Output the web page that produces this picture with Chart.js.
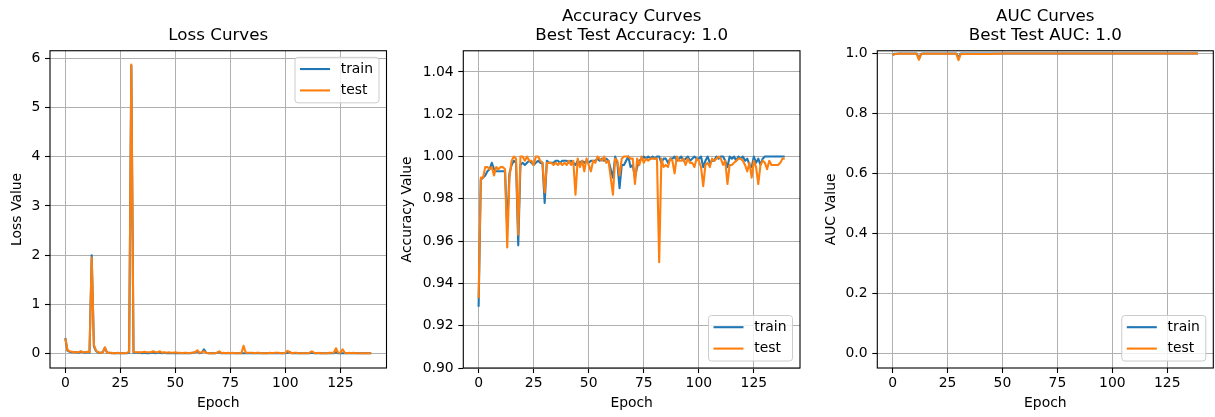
<!DOCTYPE html>
<html>
<head>
<meta charset="utf-8">
<script src="https://cdn.jsdelivr.net/npm/chart.js@4"></script>
<style>
  body { margin: 0; background: #fff; }
  #wrap { position: relative; width: 1215px; height: 417px; overflow: hidden; }
  canvas { position: absolute; top: 0; }
</style>
</head>
<body>
<div id="wrap">
  <canvas id="lossChart" width="392" height="417" style="left:0px"></canvas>
  <canvas id="accChart" width="423" height="417" style="left:392px"></canvas>
  <canvas id="aucChart" width="400" height="417" style="left:815px"></canvas>
</div>
<script>
// values, one per epoch (0..139)
const lossTrain = [
  0.32,0.06,0.04,0.03,0.03,0.03,0.02,0.04,0.03,0.02,
  0.03,0.02,2.00,0.15,0.05,0.02,0.02,0.03,0.12,0.02,
  0.02,0.01,0.01,0.01,0.01,0.01,0.01,0.01,0.01,0.02,
  5.85,0.02,0.02,0.02,0.02,0.01,0.02,0.01,0.01,0.02,
  0.02,0.01,0.02,0.02,0.01,0.02,0.01,0.01,0.01,0.01,
  0.01,0.01,0.01,0.01,0.01,0.01,0.01,0.01,0.02,0.03,
  0.05,0.01,0.02,0.09,0.02,0.01,0.01,0.01,0.01,0.02,
  0.03,0.01,0.01,0.01,0.01,0.01,0.01,0.01,0.01,0.01,
  0.01,0.01,0.01,0.01,0.01,0.01,0.01,0.01,0.01,0.01,
  0.01,0.01,0.01,0.01,0.01,0.01,0.01,0.01,0.01,0.01,
  0.01,0.02,0.03,0.01,0.01,0.01,0.01,0.01,0.01,0.01,
  0.01,0.01,0.02,0.01,0.01,0.01,0.01,0.01,0.01,0.01,
  0.01,0.01,0.01,0.03,0.01,0.01,0.01,0.01,0.01,0.01,
  0.01,0.01,0.01,0.01,0.01,0.01,0.01,0.01,0.01,0.01
];
const lossTest = [
  0.31,0.07,0.05,0.04,0.03,0.03,0.03,0.05,0.03,0.03,
  0.04,0.03,1.95,0.18,0.06,0.03,0.02,0.02,0.13,0.02,
  0.02,0.02,0.01,0.01,0.02,0.01,0.01,0.01,0.02,0.04,
  5.87,0.04,0.03,0.03,0.03,0.03,0.04,0.03,0.03,0.03,
  0.05,0.03,0.03,0.05,0.02,0.03,0.02,0.03,0.02,0.02,
  0.03,0.02,0.02,0.01,0.02,0.02,0.01,0.02,0.02,0.03,
  0.07,0.02,0.03,0.05,0.02,0.01,0.01,0.01,0.01,0.02,
  0.05,0.01,0.02,0.01,0.02,0.01,0.02,0.01,0.01,0.01,
  0.01,0.16,0.02,0.02,0.02,0.02,0.01,0.02,0.02,0.01,
  0.01,0.01,0.01,0.02,0.01,0.02,0.02,0.02,0.01,0.01,
  0.02,0.06,0.03,0.01,0.02,0.02,0.01,0.01,0.01,0.01,
  0.01,0.02,0.05,0.02,0.01,0.02,0.01,0.01,0.01,0.01,
  0.02,0.02,0.02,0.11,0.02,0.02,0.09,0.02,0.01,0.02,
  0.01,0.02,0.01,0.01,0.01,0.01,0.01,0.01,0.01,0.01
];
const accTrain = [
  0.929,0.989,0.990,0.991,0.993,0.994,0.997,0.994,0.993,0.993,
  0.993,0.993,0.993,0.966,0.992,0.996,0.998,0.997,0.958,0.996,
  0.997,0.996,0.997,0.998,0.997,0.996,0.997,0.998,0.997,0.997,
  0.978,0.998,0.997,0.997,0.997,0.998,0.998,0.997,0.998,0.998,
  0.998,0.997,0.998,0.997,0.996,0.998,0.997,0.998,0.997,0.998,
  0.997,0.998,0.998,0.998,0.999,0.998,0.999,0.998,0.999,0.998,
  0.994,0.990,1.000,0.997,0.985,0.996,0.996,0.998,1.000,0.995,
  0.996,0.990,0.995,0.998,0.999,1.000,0.999,1.000,0.999,1.000,
  0.999,1.000,1.000,0.997,0.999,0.999,0.997,0.999,0.999,1.000,
  0.998,0.999,1.000,0.998,0.999,1.000,0.998,0.999,1.000,0.999,
  0.999,1.000,0.995,0.998,1.000,0.997,0.998,0.998,1.000,0.999,
  1.000,1.000,0.998,0.995,1.000,0.999,1.000,0.998,1.000,0.999,
  1.000,0.998,0.999,0.996,0.995,1.000,0.997,0.999,0.996,0.999,
  1.000,1.000,1.000,1.000,1.000,1.000,1.000,1.000,1.000,1.000
];
const accTest = [
  0.933,0.990,0.990,0.995,0.995,0.994,0.995,0.991,0.995,0.994,
  0.995,0.995,0.994,0.957,0.990,0.998,1.000,0.999,0.963,1.000,
  1.000,0.998,1.000,0.998,0.998,0.996,1.000,1.000,0.998,0.997,
  0.983,0.997,0.997,0.997,0.996,0.997,0.996,0.997,0.996,0.997,
  0.996,0.998,0.996,0.998,0.982,0.999,0.995,0.998,0.993,0.999,
  0.996,0.993,0.998,0.997,1.000,0.999,0.998,1.000,0.997,0.998,
  0.990,0.982,0.999,0.998,0.991,0.999,1.000,1.000,1.000,0.999,
  0.999,0.987,0.999,0.996,1.000,0.997,0.999,0.998,0.999,0.999,
  0.999,0.999,0.950,0.999,0.995,0.996,0.995,0.999,0.998,0.992,
  1.000,0.998,0.998,0.999,0.996,0.999,0.997,0.997,0.995,0.999,
  0.998,0.995,0.986,0.996,0.997,0.995,0.999,0.998,0.999,1.000,
  0.999,0.996,0.998,0.987,0.996,0.996,0.997,0.998,0.999,0.999,
  0.998,0.996,0.993,0.997,0.990,0.998,0.995,0.987,0.996,0.998,
  0.997,0.994,0.998,0.996,0.996,0.996,0.996,0.997,0.999,0.999
];
const aucTrain = [
  0.995,0.999,0.999,1.000,1.000,1.000,1.000,1.000,1.000,1.000,
  1.000,1.000,0.982,0.999,1.000,1.000,1.000,1.000,1.000,1.000,
  1.000,1.000,1.000,1.000,1.000,1.000,1.000,1.000,1.000,1.000,
  0.985,1.000,1.000,1.000,1.000,1.000,1.000,1.000,1.000,1.000,
  1.000,1.000,1.000,1.000,1.000,1.000,1.000,1.000,1.000,1.000,
  1.000,1.000,1.000,1.000,1.000,1.000,1.000,1.000,1.000,1.000,
  1.000,1.000,1.000,1.000,1.000,1.000,1.000,1.000,1.000,1.000,
  1.000,1.000,1.000,1.000,1.000,1.000,1.000,1.000,1.000,1.000,
  1.000,1.000,1.000,1.000,1.000,1.000,1.000,1.000,1.000,1.000,
  1.000,1.000,1.000,1.000,1.000,1.000,1.000,1.000,1.000,1.000,
  1.000,1.000,1.000,1.000,1.000,1.000,1.000,1.000,1.000,1.000,
  1.000,1.000,1.000,1.000,1.000,1.000,1.000,1.000,1.000,1.000,
  1.000,1.000,1.000,1.000,1.000,1.000,1.000,1.000,1.000,1.000,
  1.000,1.000,1.000,1.000,1.000,1.000,1.000,1.000,1.000,1.000
];
const aucTest = [
  0.994,0.998,0.999,0.999,0.999,0.999,0.999,0.999,0.999,0.999,
  0.999,0.999,0.979,0.998,0.999,0.999,0.999,0.999,0.999,0.999,
  0.999,0.999,0.999,0.999,0.999,0.999,0.999,0.999,0.999,0.999,
  0.978,0.998,0.998,0.998,0.998,0.998,0.998,0.998,0.998,0.998,
  0.998,0.998,0.998,0.998,0.998,0.998,0.999,0.999,0.999,0.999,
  1.000,1.000,1.000,1.000,1.000,1.000,1.000,1.000,1.000,1.000,
  1.000,1.000,1.000,1.000,1.000,1.000,1.000,1.000,1.000,1.000,
  1.000,1.000,1.000,1.000,1.000,1.000,1.000,1.000,1.000,1.000,
  1.000,1.000,1.000,1.000,1.000,1.000,1.000,1.000,1.000,1.000,
  1.000,1.000,1.000,1.000,1.000,1.000,1.000,1.000,1.000,1.000,
  1.000,1.000,1.000,1.000,1.000,1.000,1.000,1.000,1.000,1.000,
  1.000,1.000,1.000,1.000,1.000,1.000,1.000,1.000,1.000,1.000,
  1.000,1.000,1.000,1.000,1.000,1.000,1.000,1.000,1.000,1.000,
  1.000,1.000,1.000,1.000,1.000,1.000,1.000,1.000,1.000,1.000
];
const epochs = lossTrain.map((v, i) => i);

const BLUE = '#1f77b4';
const ORANGE = '#ff7f0e';
const FAMILY = '"DejaVu Sans", sans-serif';
const small = { family: FAMILY, size: 13.9 };

// black box around the plot area, like matplotlib spines
const frame = {
  id: 'frame',
  afterDatasetsDraw(chart) {
    const a = chart.chartArea;
    const ctx = chart.ctx;
    ctx.save();
    ctx.strokeStyle = '#000';
    ctx.lineWidth = 1.1;
    ctx.strokeRect(a.left, a.top, a.right - a.left, a.bottom - a.top);
    ctx.restore();
  }
};

// legend drawn inside the plot area
const boxLegend = {
  id: 'boxLegend',
  afterDraw(chart, args, opts) {
    const a = chart.chartArea;
    const ctx = chart.ctx;
    const w = 84, h = 45.5;
    const x = a.right - 7.5 - w;
    const y = opts.where === 'top' ? a.top + 6.6 : a.bottom - 7 - h;
    ctx.save();
    ctx.beginPath();
    ctx.roundRect(x, y, w, h, 3);
    ctx.fillStyle = 'rgba(255,255,255,0.8)';
    ctx.fill();
    ctx.strokeStyle = '#cccccc';
    ctx.lineWidth = 1;
    ctx.stroke();
    ctx.font = '13.9px ' + FAMILY;
    ctx.textBaseline = 'middle';
    chart.data.datasets.forEach((ds, i) => {
      const cy = y + 11.7 + i * 21.4;
      ctx.strokeStyle = ds.borderColor;
      ctx.lineWidth = 2.1;
      ctx.beginPath();
      ctx.moveTo(x + 5, cy);
      ctx.lineTo(x + 35, cy);
      ctx.stroke();
      ctx.fillStyle = '#000';
      ctx.fillText(ds.label, x + 45.7, cy);
    });
    ctx.restore();
  }
};

function makeChart(id, o) {
  return new Chart(document.getElementById(id), {
    type: 'line',
    data: {
      labels: epochs,
      datasets: [
        // test is drawn over train, as in the reference
        { label: 'train', data: o.train, borderColor: BLUE, order: 1 },
        { label: 'test', data: o.test, borderColor: ORANGE, order: 0 }
      ]
    },
    plugins: [frame, boxLegend],
    options: {
      responsive: false,
      animation: false,
      devicePixelRatio: 1,
      events: [],
      layout: { padding: { left: 0, top: 0, bottom: 0, right: o.padRight } },
      elements: {
        line: { borderWidth: 2.1, tension: 0, fill: false, borderJoinStyle: 'round' },
        point: { radius: 0 }
      },
      plugins: {
        legend: { display: false },
        tooltip: { enabled: false },
        boxLegend: { where: o.legend },
        title: {
          display: true,
          fullSize: false,
          text: o.title,
          color: '#000',
          font: { family: FAMILY, size: 16.7, weight: 'normal', lineHeight: 1.17 },
          padding: o.titlePad
        }
      },
      scales: {
        x: {
          type: 'linear',
          min: -6.95,
          max: 145.95,
          afterFit: s => { s.height = 49; },
          border: { display: false },
          grid: { color: '#b0b0b0', lineWidth: 1, tickColor: '#000', tickLength: 5, tickWidth: 1.1 },
          ticks: { stepSize: 25, includeBounds: false, padding: 1.8, color: '#000', font: small, maxRotation: 0 },
          title: { display: true, text: 'Epoch', color: '#000', font: small, padding: { top: 0, bottom: 5 } }
        },
        y: {
          min: o.yMin,
          max: o.yMax,
          afterFit: s => { s.width = o.yWidth; },
          border: { display: false },
          grid: { color: '#b0b0b0', lineWidth: 1, tickColor: '#000', tickLength: 5, tickWidth: 1.1 },
          ticks: {
            stepSize: o.yStep, includeBounds: false, padding: 4.7, color: '#000', font: small,
            callback: v => v.toFixed(o.yDec)
          },
          title: { display: true, text: o.yTitle, color: '#000', font: small, padding: { top: o.yTitlePad, bottom: 0 } }
        }
      }
    }
  });
}

makeChart('lossChart', {
  train: lossTrain, test: lossTest,
  title: 'Loss Curves', titlePad: { top: 26.25, bottom: 4.95 },
  yTitle: 'Loss Value', yMin: -0.29, yMax: 6.15, yStep: 1, yDec: 0,
  yWidth: 50, yTitlePad: 9.15, padRight: 5.5, legend: 'top'
});
makeChart('accChart', {
  train: accTrain, test: accTest,
  title: ['Accuracy Curves', 'Best Test Accuracy: 1.0'], titlePad: { top: 6.75, bottom: 4.95 },
  yTitle: 'Accuracy Value', yMin: 0.9, yMax: 1.05, yStep: 0.02, yDec: 2,
  yWidth: 71.3, yTitlePad: 6.65, padRight: 15, legend: 'bottom'
});
makeChart('aucChart', {
  train: aucTrain, test: aucTest,
  title: ['AUC Curves', 'Best Test AUC: 1.0'], titlePad: { top: 6.75, bottom: 4.95 },
  yTitle: 'AUC Value', yMin: -0.05, yMax: 1.009, yStep: 0.2, yDec: 1,
  yWidth: 62.3, yTitlePad: 7.65, padRight: 1.7, legend: 'bottom'
});
</script>
</body>
</html>
